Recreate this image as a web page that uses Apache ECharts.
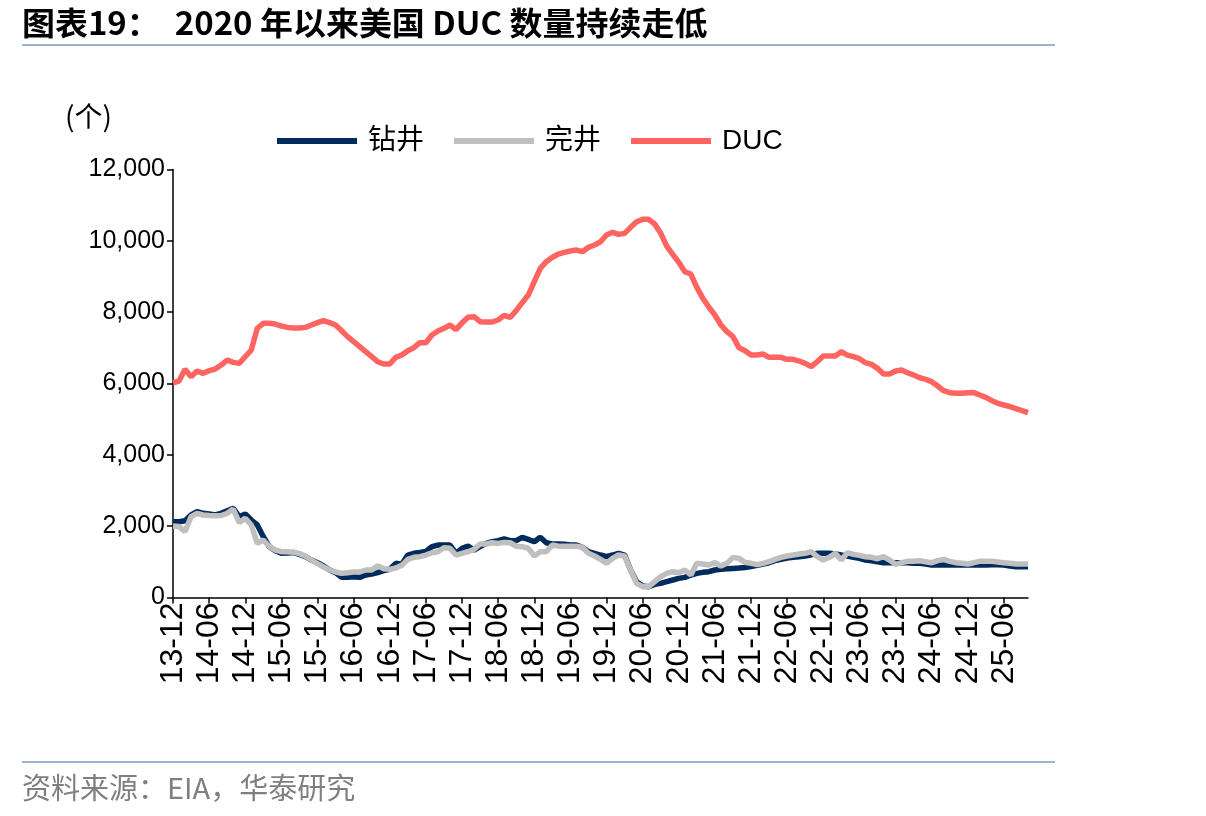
<!DOCTYPE html>
<html><head><meta charset="utf-8">
<script src="https://cdn.jsdelivr.net/npm/echarts@6/dist/echarts.min.js"></script>
<style>html,body{margin:0;padding:0;background:#fff}#c{width:1206px;height:816px}</style>
</head><body><div id="c"></div>
<script>
const categories = [
"13-12",
"14-01","14-02","14-03","14-04","14-05","14-06","14-07","14-08","14-09","14-10","14-11","14-12",
"15-01","15-02","15-03","15-04","15-05","15-06","15-07","15-08","15-09","15-10","15-11","15-12",
"16-01","16-02","16-03","16-04","16-05","16-06","16-07","16-08","16-09","16-10","16-11","16-12",
"17-01","17-02","17-03","17-04","17-05","17-06","17-07","17-08","17-09","17-10","17-11","17-12",
"18-01","18-02","18-03","18-04","18-05","18-06","18-07","18-08","18-09","18-10","18-11","18-12",
"19-01","19-02","19-03","19-04","19-05","19-06","19-07","19-08","19-09","19-10","19-11","19-12",
"20-01","20-02","20-03","20-04","20-05","20-06","20-07","20-08","20-09","20-10","20-11","20-12",
"21-01","21-02","21-03","21-04","21-05","21-06","21-07","21-08","21-09","21-10","21-11","21-12",
"22-01","22-02","22-03","22-04","22-05","22-06","22-07","22-08","22-09","22-10","22-11","22-12",
"23-01","23-02","23-03","23-04","23-05","23-06","23-07","23-08","23-09","23-10","23-11","23-12",
"24-01","24-02","24-03","24-04","24-05","24-06","24-07","24-08","24-09","24-10","24-11","24-12",
"25-01","25-02","25-03","25-04","25-05","25-06","25-07","25-08","25-09","25-10"];

const duc = [6020,6070,6397,6190,6350,6285,6360,6405,6518,6658,6593,6565,6751,6939,7546,7687,7687,7667,7611,7574,
7555,7555,7574,7640,7705,7761,7705,7640,7481,7313,7172,7032,6891,6751,6611,6546,6546,6733,6798,6920,
7004,7144,7144,7359,7471,7546,7640,7510,7700,7855,7874,7733,7724,7724,7780,7911,7855,8041,8265,8481,
8854,9229,9415,9537,9630,9677,9714,9742,9695,9818,9882,9975,10163,10238,10182,10210,10378,10536,10603,10603,
10471,10210,9854,9621,9397,9134,9069,8696,8388,8136,7920,7640,7452,7313,7000,6920,6798,6798,6826,6733,
6733,6733,6677,6677,6630,6565,6471,6611,6770,6770,6770,6891,6798,6751,6695,6583,6537,6425,6266,6266,
6350,6378,6303,6238,6163,6117,6051,5929,5798,5742,5725,5725,5742,5745,5677,5612,5518,5444,5397,5349,
5293,5237,5181];

const drilled = [2125,2125,2150,2313,2406,2360,2340,2313,2360,2434,2500,2266,2341,2173,2033,1705,1424,1312,1239,1250,
1260,1210,1144,1050,976,883,771,696,565,565,584,565,631,659,696,752,790,958,930,1191,
1240,1260,1290,1424,1470,1470,1470,1239,1379,1444,1331,1424,1517,1564,1592,1640,1592,1592,1687,1630,
1564,1687,1535,1500,1500,1490,1472,1472,1410,1284,1239,1191,1144,1191,1239,1191,771,444,322,303,
369,397,444,490,537,565,631,677,705,724,771,790,805,815,825,840,865,900,939,976,
1032,1070,1107,1126,1144,1163,1200,1238,1238,1238,1220,1191,1163,1126,1097,1051,1032,1004,976,976,
976,976,976,958,958,939,911,911,911,911,911,911,911,911,911,911,920,920,911,883,
865,865,865];

const completed = [2005,1990,1850,2266,2360,2313,2300,2290,2300,2360,2480,2100,2220,2033,1519,1612,1424,1331,1285,1285,
1270,1230,1160,1051,949,855,771,715,677,696,715,715,771,771,893,808,790,827,902,1070,
1126,1144,1190,1256,1285,1397,1378,1191,1239,1284,1351,1500,1500,1535,1517,1545,1535,1440,1424,1380,
1163,1284,1284,1470,1440,1440,1440,1440,1410,1239,1163,1070,958,1097,1191,1163,771,397,303,303,
444,584,677,724,696,771,631,958,939,911,977,883,958,1126,1097,985,958,920,958,1004,
1070,1126,1163,1191,1220,1238,1285,1144,1051,1126,1238,1051,1257,1210,1182,1144,1126,1088,1144,1051,
930,976,1014,1014,1032,1004,976,1032,1070,1014,976,958,939,976,1014,1014,1014,995,976,958,
939,939,939];

const seriesNames = ["钻井","完井","DUC"];
const yTicks = [0,2000,4000,6000,8000,10000,12000];
const titleText = "图表19：  2020 年以来美国 DUC 数量持续走低";
const sourceText = "资料来源：EIA，华泰研究";
const unitText = "(个)";

const SANS = "'Liberation Sans',Arial,'Noto Sans CJK SC',sans-serif";
const chart = echarts.init(document.getElementById('c'), null, {renderer:'canvas'});
chart.setOption({
  animation:false,
  backgroundColor:'#fff',
  grid:{left:173, right:178, top:169.5, bottom:218.5, containLabel:false},
  legend:{
    left:277, top:127, padding:0, itemWidth:80, itemHeight:6, itemGap:30, icon:'rect',
    data:seriesNames,
    textStyle:{fontSize:28, fontFamily:SANS, color:'#000', padding:[0,0,0,6]}
  },
  xAxis:{
    type:'category', data:categories, boundaryGap:false,
    axisLine:{lineStyle:{color:'#000', width:1.5}},
    axisTick:{interval:5, length:6, lineStyle:{color:'#000', width:1.5}},
    axisLabel:{interval:5, rotate:90, fontSize:32, fontFamily:SANS, color:'#000', margin:5}
  },
  yAxis:{
    type:'value', min:yTicks[0], max:yTicks[yTicks.length-1], interval:2000,
    splitLine:{show:false},
    axisLine:{show:true, lineStyle:{color:'#000', width:1.5}},
    axisTick:{show:true, length:6, lineStyle:{color:'#000', width:1.5}},
    axisLabel:{fontSize:25, fontFamily:SANS, color:'#000', margin:8,
      formatter:v=>v.toLocaleString('en-US')}
  },
  series:[
    {name:seriesNames[0], type:'line', data:drilled, showSymbol:false, symbol:'none', lineStyle:{width:5.5, color:'#002B5C'}, itemStyle:{color:'#002B5C'}},
    {name:seriesNames[1], type:'line', data:completed, showSymbol:false, symbol:'none', lineStyle:{width:5.5, color:'#BFBFBF'}, itemStyle:{color:'#BFBFBF'}},
    {name:seriesNames[2], type:'line', data:duc, showSymbol:false, symbol:'none', lineStyle:{width:5.5, color:'#FF6461'}, itemStyle:{color:'#FF6461'}}
  ],
  graphic:[
    {type:'text', x:22, y:23, scaleX:1.03, style:{text:titleText, font:"bold 32px 'Noto Sans CJK SC',sans-serif", fill:'#000', verticalAlign:'middle', align:'left'}},
    {type:'line', shape:{x1:22,y1:45,x2:1055,y2:45}, style:{stroke:'#9DB3CE', lineWidth:2}},
    {type:'text', x:65, y:116, style:{text:unitText, font:"28px 'Noto Sans CJK SC',sans-serif", fill:'#000', verticalAlign:'middle', align:'left'}},
    {type:'line', shape:{x1:22,y1:762,x2:1055,y2:762}, style:{stroke:'#9DB3CE', lineWidth:2}},
    {type:'text', x:22, y:788, style:{text:sourceText, font:"29px 'Noto Sans CJK SC',sans-serif", fill:'#7F7F7F', verticalAlign:'middle', align:'left'}}
  ]
});
</script></body></html>
